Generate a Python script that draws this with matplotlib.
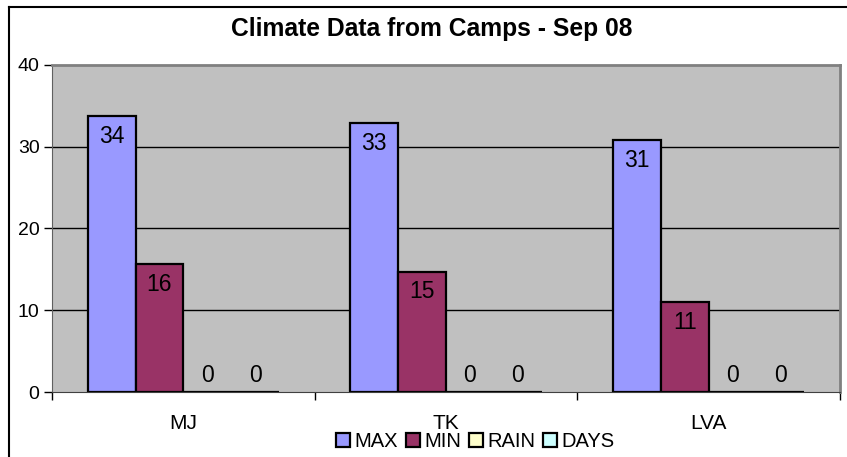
import numpy as np
import matplotlib
matplotlib.use("Agg")
from matplotlib import pyplot as plt
from matplotlib.lines import Line2D

camps = ["MJ", "TK", "LVA"]
series_names = ["MAX", "MIN", "RAIN", "DAYS"]
max_vals = [33.7, 32.9, 30.8]
min_vals = [15.6, 14.7, 11.0]
rain_vals = [0, 0, 0]
days_vals = [0, 0, 0]
colors = ["#9999FF", "#993366", "#FFFFCC", "#CCFFFF"]

plt.rcParams['font.family'] = ['Liberation Sans', 'DejaVu Sans']

fig = plt.figure(figsize=(8.47, 4.57), dpi=100)
ax = fig.add_axes([0.0614, 0.1422, 0.9303, 0.7156])
ax.set_facecolor("#C0C0C0")

x = np.arange(len(camps))
width = 0.182
all_vals = [max_vals, min_vals, rain_vals, days_vals]

# grid lines behind bars
for yv in [10, 20, 30]:
    ax.axhline(yv, color="black", linewidth=1, zorder=1)

for i, vals in enumerate(all_vals):
    pos = x + (i - 1.5) * width
    ax.bar(pos, vals, width, color=colors[i], edgecolor="black",
           linewidth=1.6, label=series_names[i], zorder=2)
    for p, v in zip(pos, vals):
        if v > 0:
            off = -14.5
        else:
            off = 12
        ax.annotate(str(int(round(v))), (p, v), xytext=(0, off),
                    textcoords="offset points", ha="center", va="center",
                    fontsize=16.5, zorder=3)

ax.set_xlim(-0.5, 2.5)
ax.set_ylim(0, 40)
ax.set_yticks([0, 10, 20, 30, 40])
ax.tick_params(axis="y", labelsize=14, length=6, width=1, direction="out", pad=3)
ax.set_xticks(x)
ax.set_xticklabels(camps, fontsize=15)
ax.tick_params(axis="x", length=0, pad=16)
ax.set_xticks([-0.5, 0.5, 1.5, 2.5], minor=True)
ax.tick_params(axis="x", which="minor", length=6, width=1, direction="out")

for s in ["top", "right"]:
    ax.spines[s].set_color("#808080")
    ax.spines[s].set_linewidth(2)
ax.spines["left"].set_color("#606060")
ax.spines["bottom"].set_color("#404040")

fig.text(0.51, 1 - 29 / 457, "Climate Data from Camps - Sep 08", fontsize=17.7,
         fontweight="bold", ha="center", va="center")

# outer chart border (left and top visible)
fig.add_artist(Line2D([9 / 847, 9 / 847], [0, 1 - 7 / 457], color="black", linewidth=1.5))
fig.add_artist(Line2D([9 / 847, 1], [1 - 7 / 457, 1 - 7 / 457], color="black", linewidth=1.5))

fig.legend(loc="center", bbox_to_anchor=(0.561, 0.033), ncol=4, frameon=False,
           fontsize=14.5, handlelength=0.7, handleheight=0.7, handletextpad=0.2,
           columnspacing=0.4, borderpad=0)

fig.savefig("out.png", dpi=100)
